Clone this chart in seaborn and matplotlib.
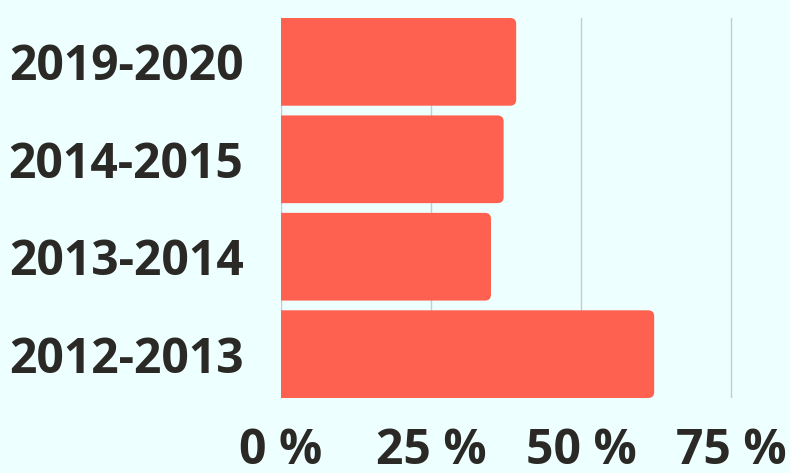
import matplotlib
matplotlib.use("Agg")
import matplotlib.pyplot as plt
import seaborn as sns
import pandas as pd
from matplotlib.patches import FancyBboxPatch

categories = ["2019-2020", "2014-2015", "2013-2014", "2012-2013"]
values = [39.2, 37.1, 35.0, 62.2]
xticks = [0, 25, 50, 75]
xtick_labels = ["0 %", "25 %", "50 %", "75 %"]

bg = "#edfffe"
bar_color = "#ff6150"
text_color = "#2b2926"

sns.set_theme(style="white")
plt.rcParams["font.family"] = ["Open Sans", "DejaVu Sans"]

fig = plt.figure(figsize=(7.9, 4.73), dpi=100, facecolor=bg)
ax = fig.add_axes([281 / 790, (473 - 398) / 473, (789 - 281) / 790, 380 / 473])
ax.set_facecolor(bg)

df = pd.DataFrame({"period": categories, "value": values})
sns.barplot(data=df, x="value", y="period", order=categories, color=bar_color,
            width=0.9, saturation=1, ax=ax, zorder=2)

ax.set_xlim(0, (789 - 281) / 6)
ax.set_ylim(3.45, -0.45)

# replace bars with right-rounded boxes
px_x = 1.0 / 6.0  # data units per pixel in x
px_y = 3.9 / 380  # data units per pixel in y
aspect = px_y / px_x
for p in list(ax.patches):
    x0, y0, w, h = p.get_x(), p.get_y(), p.get_width(), p.get_height()
    p.remove()
    r = 6 * px_x
    box = FancyBboxPatch((x0 - 20, y0), w + 20, h,
                         boxstyle=f"round,pad=0,rounding_size={r}",
                         mutation_aspect=aspect, facecolor=bar_color,
                         edgecolor="none", zorder=2, clip_on=True)
    ax.add_patch(box)

ax.set_xticks(xticks)
ax.set_xticklabels(xtick_labels)
ax.grid(axis="x", color="#c8cccc", linewidth=1, zorder=0)
ax.grid(axis="y", visible=False)
ax.set_axisbelow(True)
for s in ax.spines.values():
    s.set_visible(False)
ax.tick_params(axis="both", length=0, labelsize=34.6, labelcolor=text_color)
ax.tick_params(axis="x", pad=21)
ax.tick_params(axis="y", pad=27)
for lab in ax.get_xticklabels() + ax.get_yticklabels():
    lab.set_fontweight("bold")
ax.set_xlabel("")
ax.set_ylabel("")

fig.savefig("out.png", dpi=100, facecolor=bg)
